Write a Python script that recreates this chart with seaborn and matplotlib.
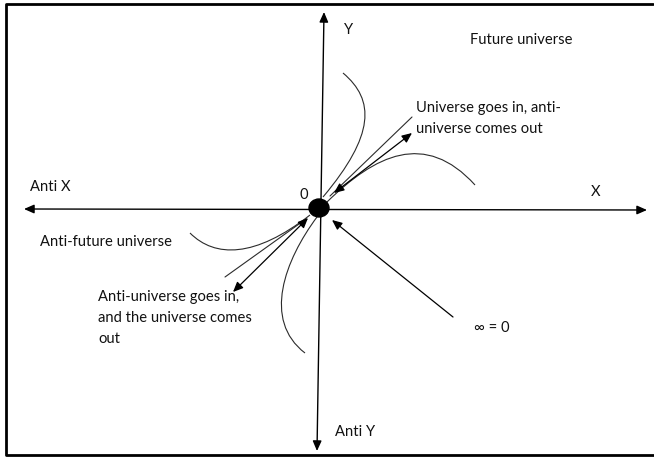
import matplotlib
matplotlib.use("Agg")
import matplotlib.pyplot as plt
import seaborn as sns
import pandas as pd
from matplotlib.path import Path
from matplotlib.patches import PathPatch, Ellipse

# diagram geometry, in page pixels (origin top-left)
origin = (319, 208)
x_axis_ends = [(24, 209), (647, 210)]
y_axis_ends = [(324, 12), (317, 451)]

# plain straight rays
plain_rays = {
    "upper": [(412, 117), (330, 196)],
    "lower": [(225, 277), (306, 219)],
}
# double-headed arrows
double_arrows = [
    [(412, 133), (334, 193)],
    [(233, 292), (308, 218)],
]
# single arrow pointing at the origin
inf_arrow = [(453, 317), (332, 220)]

# bezier control points of the thin curves
curves = [
    [(343, 73), (375, 100), (375, 135), (323, 197)],
    [(327, 202), (375, 155), (425, 130), (475, 185)],
    [(190, 233), (215, 258), (255, 258), (310, 215)],
    [(317, 217), (285, 260), (262, 320), (305, 353)],
]

labels = [
    ("Y", 344, 30, "left"),
    ("Future universe", 470, 40, "left"),
    ("Universe goes in, anti-", 416, 108, "left"),
    ("universe comes out", 416, 129, "left"),
    ("Anti X", 30, 187, "left"),
    ("0", 304, 195, "center"),
    ("X", 596, 192, "center"),
    ("Anti-future universe", 40, 242, "left"),
    ("Anti-universe goes in,", 98, 297, "left"),
    ("and the universe comes", 98, 318, "left"),
    ("out", 98, 339, "left"),
    ("\u221e = 0", 474, 328, "left"),
    ("Anti Y", 335, 432, "left"),
]

sns.set_theme(style="white")
plt.rcParams["font.family"] = ["Lato", "DejaVu Sans"]

fig = plt.figure(figsize=(6.54, 4.59), dpi=100)
ax = fig.add_axes([0, 0, 1, 1])
ax.set_xlim(0, 654)
ax.set_ylim(459, 0)
ax.axis("off")

# page frame (left, top, bottom edges)
frame = pd.DataFrame({"x": [653, 5.5, 5.5, 654], "y": [4, 4, 455, 455]})
sns.lineplot(data=frame, x="x", y="y", sort=False, estimator=None,
             color="black", lw=2.0, ax=ax)

line_col = "#2b2b2b"
axis_style = "<|-|>,head_length=0.5,head_width=0.22"
head_style = "-|>,head_length=0.5,head_width=0.22"

for a, b in [x_axis_ends, y_axis_ends]:
    ax.annotate("", xy=b, xytext=a,
                arrowprops=dict(arrowstyle=axis_style, color="black", lw=1.0,
                                mutation_scale=12, shrinkA=0, shrinkB=0))

for name, pts in plain_rays.items():
    df = pd.DataFrame(pts, columns=["x", "y"])
    sns.lineplot(data=df, x="x", y="y", sort=False, estimator=None,
                 color=line_col, lw=0.8, ax=ax)

for a, b in double_arrows:
    ax.annotate("", xy=b, xytext=a,
                arrowprops=dict(arrowstyle=axis_style, color="black", lw=0.9,
                                mutation_scale=12, shrinkA=0, shrinkB=0))

ax.annotate("", xy=inf_arrow[1], xytext=inf_arrow[0],
            arrowprops=dict(arrowstyle=head_style, color="black", lw=0.9,
                            mutation_scale=12, shrinkA=0, shrinkB=0))

for pts in curves:
    path = Path(pts, [Path.MOVETO, Path.CURVE4, Path.CURVE4, Path.CURVE4])
    ax.add_patch(PathPatch(path, fill=False, edgecolor=line_col, lw=0.8))

ax.add_patch(Ellipse(origin, 20, 18, color="black", zorder=5))

for text, x, y, ha in labels:
    ax.text(x, y, text, ha=ha, va="center", fontsize=10.6, color="#111111")

fig.savefig("out.png", dpi=100)
